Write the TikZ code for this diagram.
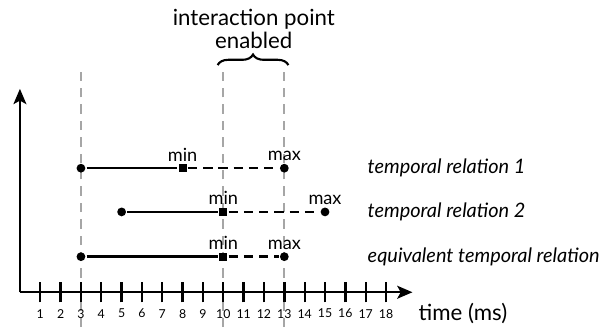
\documentclass[tikz,border=0pt]{standalone}
\usepackage{fontspec}
\setmainfont{Lato}
\usetikzlibrary{arrows.meta,decorations.pathreplacing}

\tikzset{
  dot/.style={circle,fill,inner sep=0pt,minimum size=7.5pt},
  sqr/.style={rectangle,fill,inner sep=0pt,minimum size=7pt},
  guide/.style={gray!70,line width=1.7pt,dash pattern=on 8pt off 6pt},
  bound/.style={label={[inner sep=0.5pt,font=\fontsize{15.5}{17}\selectfont]above:#1}},
  relname/.style={anchor=west,font=\fontsize{17}{19}\selectfont\itshape},
}

\begin{document}
\begin{tikzpicture}[x=0.61cm,y=0.61cm,line width=2pt]
\useasboundingbox (-0.98,-1.71) rectangle (29.16,14.37);
\coordinate (O) at (0,0);
\coordinate (X) at (19.3,0);
\coordinate (Y) at (0,10);
	\foreach \t in {3,10,13}
		\draw[guide] (\t,-1.71) -- (\t,11);
	\draw[-{Stealth[length=13pt,width=11pt,inset=3pt]}] (O) -- (X);
	\draw[-{Stealth[length=13pt,width=11pt,inset=3pt]}] (O) -- (Y);
	\foreach \t in {1,...,18} {
		\draw (\t,-0.5) -- (\t,0.5);
		\node[font=\fontsize{10.5}{12}\selectfont] (n\t) at (\t,-1.05) {\t};
	}
	\node[anchor=west,font=\fontsize{19}{21}\selectfont] (unit) at (19.35,-1.05) {time (ms)};

	\node[dot] (s1) at (3,6.1) {};
	\node[sqr,bound=min] (m1) at (8,6.1) {};
	\node[dot,bound=max] (e1) at (13,6.1) {};
	\node[dot] (s2) at (5,3.95) {};
	\node[sqr,bound=min] (m2) at (10,3.95) {};
	\node[dot,bound=max] (e2) at (15,3.95) {};
	\node[dot] (s3) at (3,1.75) {};
	\node[sqr,bound=min] (m3) at (10,1.75) {};
	\node[dot,bound=max] (e3) at (13,1.75) {};
	\foreach \r in {1,2,3} {
		\draw (s\r) -- (m\r);
		\draw[dash pattern=on 8pt off 5pt] (m\r) -- (e\r);
	}
	\node[relname] (r1) at (16.85,6.1) {temporal relation 1};
	\node[relname] (r2) at (16.85,3.95) {temporal relation 2};
	\node[relname] (r3) at (16.85,1.75) {equivalent temporal relation};

\coordinate (bl) at (9.72,11.17);
\coordinate (br) at (13.2,11.17);
	\draw[line width=1.8pt,decorate,decoration={brace,amplitude=9pt}] (bl) -- (br);
	\node[align=center,font=\fontsize{19}{19}\selectfont] (ip) at (11.5,12.95) {interaction point\\enabled};
\end{tikzpicture}
\end{document}
